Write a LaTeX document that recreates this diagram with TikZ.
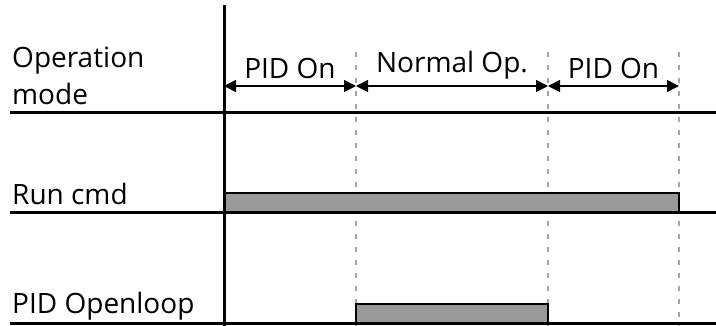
\documentclass[tikz,border=0pt]{standalone}
\usepackage{fontspec}
\setmainfont{Open Sans}
\usetikzlibrary{positioning,arrows.meta}

\begin{document}
\begin{tikzpicture}[
        x=1pt, y=-1pt,
        >={Triangle[length=12pt, width=12pt]},
        axis/.style={line width=3pt},
        guide/.style={gray!70, line width=1.6pt, dash pattern=on 5pt off 8pt},
        sig/.style={draw=black, line width=2.2pt, fill=black!40},
        lbl/.style={font=\fontsize{28}{36}\selectfont, anchor=base west, inner sep=0pt},
        span/.style={font=\fontsize{28}{36}\selectfont, above=6pt, inner sep=0pt}
    ]
        \useasboundingbox (0,0) rectangle (716,326);

        % instants of the time axis
        \coordinate (t0) at (224,86);
        \coordinate (t1) at (356,86);
        \coordinate (t2) at (548,86);
        \coordinate (t3) at (679,86);

        % row labels
        \node[lbl] (mode) at (12,68) {Operation};
        \node[lbl] (mode2) at (12,105) {mode};
        \node[lbl] (run) at (12,205) {Run cmd};
        \node[lbl] (pid) at (12,313) {PID Openloop};

        % dashed guides
        \foreach \t in {t1,t2,t3}
            \draw[guide] (\t |- 0,52) -- (\t |- 0,326);

        % signals
        \draw[sig] (t0 |- 0,213) |- (t3 |- 0,193) -- (t3 |- 0,213);
        \draw[sig] (t1 |- 0,324) |- (t2 |- 0,304) -- (t2 |- 0,324);

        % rows and time axis
        \draw[axis] (10,113) -- (716,113);
        \draw[axis] (10,213) -- (716,213);
        \draw[axis] (10,324) -- (716,324);
        \draw[axis] (t0 |- 0,5) -- (t0 |- 0,326);

        % operation modes
        \draw[<->, line width=1.5pt] (t0) -- (t1) node[midway, span] (on1) {PID On};
        \draw[<->, line width=1.5pt] (t1) -- (t2) node[midway, span] (norm) {Normal Op.};
        \draw[<->, line width=1.5pt] (t2) -- (t3) node[midway, span] (on2) {PID On};
    \end{tikzpicture}
\end{document}
